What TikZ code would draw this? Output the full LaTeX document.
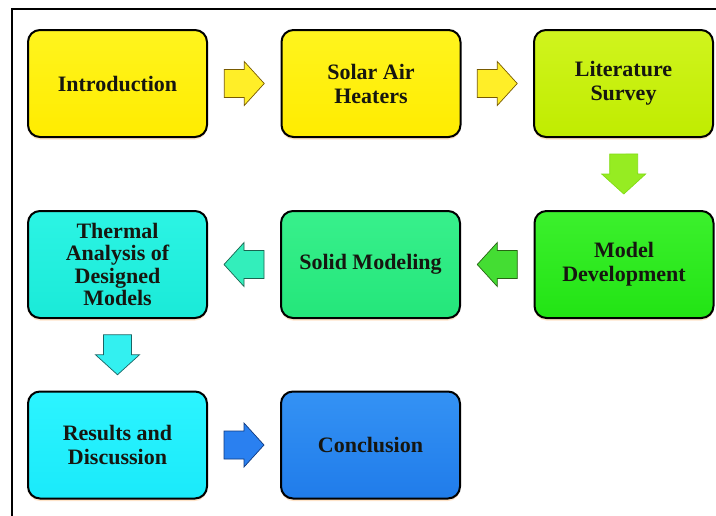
\documentclass[tikz,border=0pt]{standalone}
\usepackage{fontspec}
\setmainfont{Liberation Serif}
\usetikzlibrary{calc,shadows}
\definecolor{txt}{HTML}{161610}
\begin{document}
\begin{tikzpicture}[x=1pt,y=-1pt,
  box/.style={draw=black, line width=2pt, rounded corners=12pt,
    minimum width=179pt, minimum height=107pt, align=center,
    font=\fontsize{22}{24}\selectfont\bfseries, text=txt,
    drop shadow={shadow xshift=0pt, shadow yshift=-2.5pt, fill=orange!35, opacity=0.6}},
  barrow/.style={line width=0.7pt, to path={
    let \p1=($(\tikztostart)!0.5!(\tikztotarget)$),
        \p2=($(\p1)!-20pt!(\tikztotarget)$),
        \p3=($(\p1)!20pt!(\tikztotarget)$)
    in ($(\p2)!14pt!90:(\p3)$) -- ($(\p1)!14pt!90:(\p3)$) -- ($(\p1)!22pt!90:(\p3)$)
       -- (\p3) -- ($(\p1)!22pt!-90:(\p3)$) -- ($(\p1)!14pt!-90:(\p3)$)
       -- ($(\p2)!14pt!-90:(\p3)$) -- cycle}}]
\useasboundingbox (0,0) rectangle (716,515);
\fill[white] (0,0) rectangle (716,515);
\coordinate (fbl) at (12,516);
\coordinate (ftl) at (12,9);
\coordinate (ftr) at (717,9);
\draw[line width=2pt] (fbl) -- (ftl) -- (ftr);

\node[box, top color={rgb,255:red,255;green,244;blue,30}, bottom color={rgb,255:red,255;green,236;blue,0}] (intro) at (117.5,83.5) {Introduction};
\node[box, top color={rgb,255:red,255;green,244;blue,30}, bottom color={rgb,255:red,255;green,236;blue,0}] (solar) at (371,83.5) {Solar Air\\Heaters};
\node[box, top color={rgb,255:red,208;green,244;blue,30}, bottom color={rgb,255:red,192;green,236;blue,0}] (lit) at (623.5,83.5) {Literature\\Survey};
\node[box, top color={rgb,255:red,60;green,240;blue,45}, bottom color={rgb,255:red,34;green,228;blue,20}] (model) at (624,264.5) {Model\\Development};
\node[box, top color={rgb,255:red,56;green,240;blue,140}, bottom color={rgb,255:red,36;green,230;blue,122}] (solid) at (370.5,264.5) {Solid Modeling};
\node[box, font=\fontsize{22}{22.5}\selectfont\bfseries, top color={rgb,255:red,44;green,244;blue,228}, bottom color={rgb,255:red,26;green,234;blue,216}] (thermal) at (117.5,264.5) {Thermal\\Analysis of\\Designed\\Models};
\node[box, top color={rgb,255:red,44;green,244;blue,255}, bottom color={rgb,255:red,26;green,234;blue,250}] (results) at (117.5,445) {Results and\\Discussion};
\node[box, top color={rgb,255:red,52;green,146;blue,244}, bottom color={rgb,255:red,32;green,124;blue,234}] (concl) at (370.5,445) {Conclusion};

\draw[barrow, fill={rgb,255:red,255;green,238;blue,40}, draw={rgb,255:red,120;green,90;blue,0}] (intro) to (solar);
\draw[barrow, fill={rgb,255:red,255;green,238;blue,40}, draw={rgb,255:red,120;green,90;blue,0}] (solar) to (lit);
\draw[barrow, fill={rgb,255:red,150;green,236;blue,34}, draw={rgb,255:red,130;green,220;blue,20}] (lit) to (model);
\draw[barrow, fill={rgb,255:red,68;green,221;blue,51}, draw={rgb,255:red,40;green,100;blue,20}] (model) to (solid);
\draw[barrow, fill={rgb,255:red,51;green,238;blue,187}, draw={rgb,255:red,26;green,100;blue,80}] (solid) to (thermal);
\draw[barrow, fill={rgb,255:red,51;green,240;blue,240}, draw={rgb,255:red,26;green,100;blue,100}] (thermal) to (results);
\draw[barrow, fill={rgb,255:red,42;green,128;blue,240}, draw={rgb,255:red,16;green,58;blue,128}] (results) to (concl);
\end{tikzpicture}
\end{document}
